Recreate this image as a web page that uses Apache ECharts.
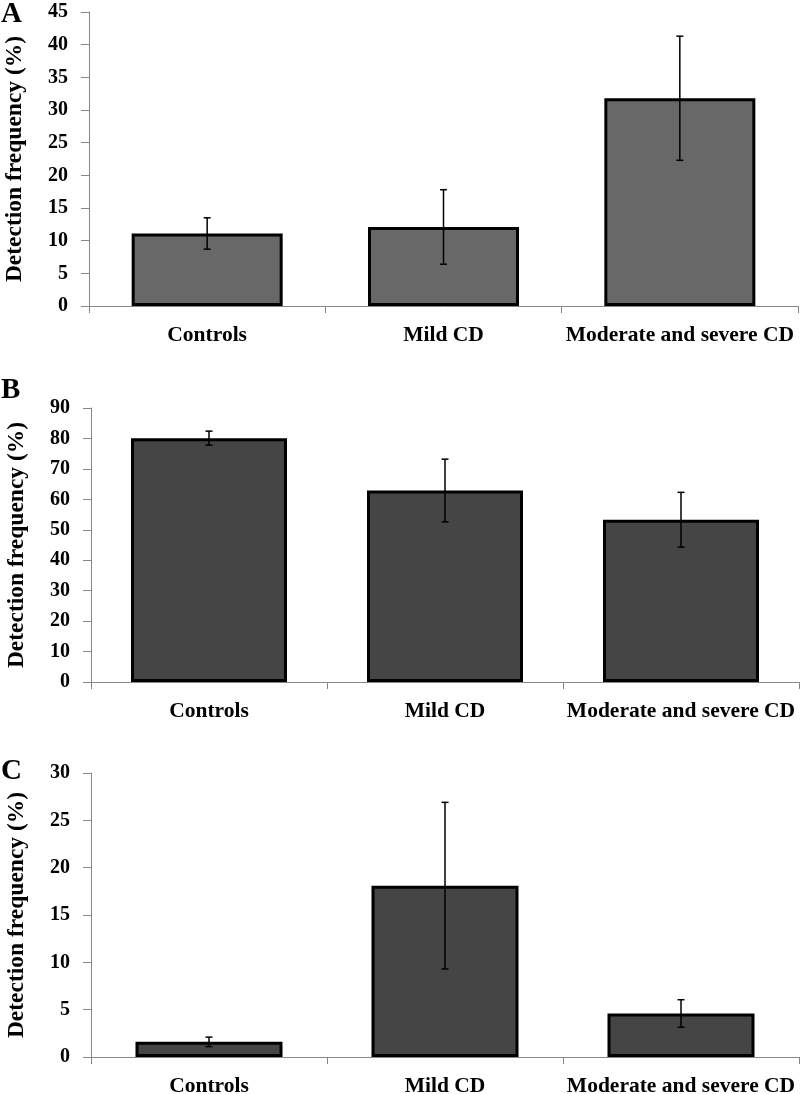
<!DOCTYPE html>
<html>
<head>
<meta charset="utf-8">
<script src="https://cdn.jsdelivr.net/npm/echarts@6/dist/echarts.min.js"></script>
<style>
html,body{margin:0;padding:0;background:#fff;}
#c{width:800px;height:1094px;}
</style>
</head>
<body>
<div id="c"></div>
<script>
var categories = ['Controls', 'Mild CD', 'Moderate and severe CD'];
var panelLetters = ['A', 'B', 'C'];
var yTitle = 'Detection frequency (%)';
var meansA = [11.1, 12.1, 31.8];
var errA = [2.4, 5.7, 9.5];
var meansB = [80.1, 62.9, 53.3];
var errB = [2.3, 10.3, 9.0];
var meansC = [1.6, 18.1, 4.6];
var errC = [0.5, 8.8, 1.45];
var yMaxes = [45, 90, 30];
var yIntervals = [5, 10, 5];

var FONT = '"Liberation Serif", "Times New Roman", serif';
var AXIS_COLOR = '#888888';

var panels = [
  {means: meansA, err: errA, fill: '#686868', grid: {left: 89, right: 2, top: 12, height: 294}, barWidth: 151, letterY: 15},
  {means: meansB, err: errB, fill: '#454545', grid: {left: 91, right: 1, top: 408, height: 274}, barWidth: 156, letterY: 391},
  {means: meansC, err: errC, fill: '#454545', grid: {left: 91, right: 1, top: 773, height: 284}, barWidth: 147, letterY: 772}
];

var grids = [], xAxes = [], yAxes = [], series = [], graphics = [];
panels.forEach(function (p, i) {
  var g = Object.assign({containLabel: false, outerBoundsMode: 'none'}, p.grid);
  grids.push(g);
  xAxes.push({
    type: 'category', gridIndex: i, data: categories,
    axisLine: {lineStyle: {color: AXIS_COLOR, width: 1}},
    axisTick: {show: true, length: 7, lineStyle: {color: AXIS_COLOR}},
    axisLabel: {color: '#000', fontFamily: FONT, fontWeight: 'bold', fontSize: 21.5, margin: 18, interval: 0},
    splitLine: {show: false}
  });
  yAxes.push({
    type: 'value', gridIndex: i, min: 0, max: yMaxes[i], interval: yIntervals[i],
    name: yTitle, nameLocation: 'middle', nameGap: 62,
    nameTextStyle: {color: '#000', fontFamily: FONT, fontWeight: 'bold', fontSize: 23.5},
    axisLine: {show: true, lineStyle: {color: AXIS_COLOR, width: 1}},
    axisTick: {show: true, length: 8, lineStyle: {color: AXIS_COLOR}},
    axisLabel: {color: '#000', fontFamily: FONT, fontWeight: 'bold', fontSize: 20, margin: 21},
    splitLine: {show: false}
  });
  series.push({
    type: 'bar', xAxisIndex: i, yAxisIndex: i, data: p.means,
    barWidth: p.barWidth,
    itemStyle: {color: p.fill, borderColor: '#000', borderWidth: 3},
    z: 2, silent: true
  });
  var errData = p.means.map(function (m, k) { return [k, m - p.err[k], m + p.err[k]]; });
  series.push({
    type: 'custom', xAxisIndex: i, yAxisIndex: i, data: errData, z: 5, silent: true,
    renderItem: function (params, api) {
      var x = api.value(0);
      var lo = api.coord([x, api.value(1)]);
      var hi = api.coord([x, api.value(2)]);
      var hw = 3.5;
      var st = {stroke: '#000', lineWidth: 1.5};
      return {
        type: 'group',
        children: [
          {type: 'line', shape: {x1: hi[0], y1: hi[1], x2: lo[0], y2: lo[1]}, style: st},
          {type: 'line', shape: {x1: hi[0] - hw, y1: hi[1], x2: hi[0] + hw, y2: hi[1]}, style: st},
          {type: 'line', shape: {x1: lo[0] - hw, y1: lo[1], x2: lo[0] + hw, y2: lo[1]}, style: st}
        ]
      };
    }
  });
  graphics.push({
    type: 'text', left: 1, top: p.letterY - 15,
    style: {text: panelLetters[i], fill: '#000', font: 'bold 29px ' + FONT}
  });
});

var chart = echarts.init(document.getElementById('c'));
chart.setOption({
  backgroundColor: '#fff',
  animation: false,
  grid: grids,
  xAxis: xAxes,
  yAxis: yAxes,
  series: series,
  graphic: graphics
});
</script>
</body>
</html>
